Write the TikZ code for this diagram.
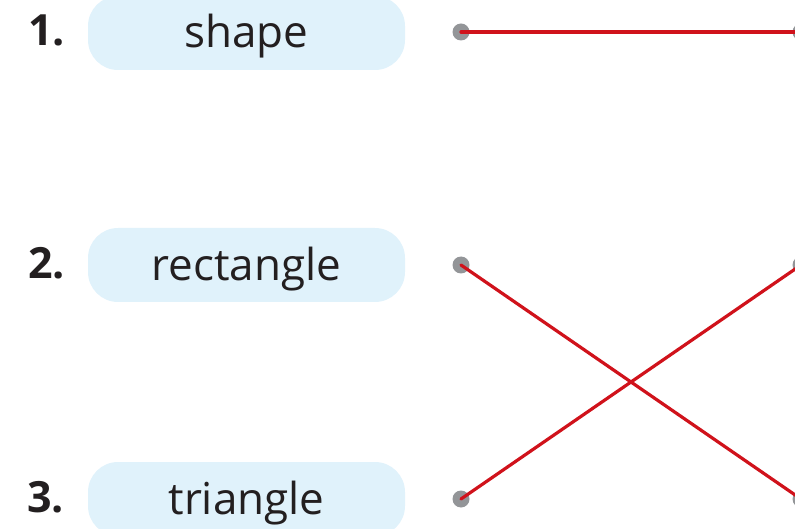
\documentclass[tikz,border=0pt]{standalone}
\usepackage{fontspec}
\setmainfont{Open Sans}
\definecolor{boxblue}{HTML}{E0F2FB}
\definecolor{linered}{HTML}{D0121B}
\definecolor{dotgray}{HTML}{939598}
\definecolor{txt}{HTML}{231F20}
\tikzset{
  wordbox/.style={fill=boxblue, rounded corners=30pt, minimum width=317pt, text height=52pt, text depth=22pt, inner sep=0pt, text=txt, font=\fontsize{44}{48}\selectfont},
  numlabel/.style={anchor=base west, inner sep=0pt, text=txt, font=\fontsize{43}{46}\selectfont\bfseries},
  dot/.style={circle, fill=dotgray, minimum size=17pt, inner sep=0pt},
  link/.style={draw=linered, line width=3.2pt, line cap=round}
}
\begin{document}
\begin{tikzpicture}[x=1pt,y=-1pt]
\useasboundingbox (0,0) rectangle (795,529);
\clip (0,0) rectangle (795,529);
\node[wordbox] (b1) at (246.5,33) {shape};
\node[wordbox] (b2) at (246.5,265) {rectangle};
\node[wordbox] (b3) at (246.5,499) {triangle};
\node[numlabel] (n1) at (28,46) {1.};
\node[numlabel] (n2) at (28,279) {2.};
\node[numlabel] (n3) at (27,512) {3.};
\node[dot] (l1) at (461,32) {};
\node[dot] (l2) at (461,265) {};
\node[dot] (l3) at (461,499) {};
\node[dot] (r1) at (801,32) {};
\node[dot] (r2) at (801,265) {};
\node[dot] (r3) at (801,499) {};
\draw[link] (l1.center) -- (r1.center);
\draw[link] (l2.center) -- (r3.center);
\draw[link] (l3.center) -- (r2.center);
\end{tikzpicture}
\end{document}
